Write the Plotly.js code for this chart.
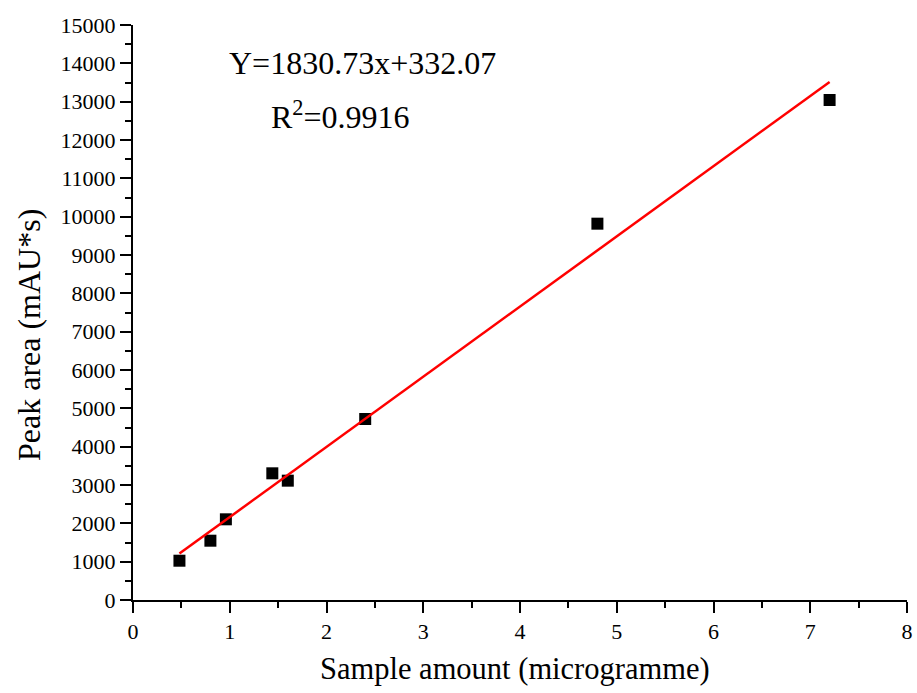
<!DOCTYPE html>
<html>
<head>
<meta charset="utf-8">
<script src="https://cdn.plot.ly/plotly-3.0.1.min.js"></script>
<style>html,body{margin:0;padding:0;background:#fff;}#chart{width:917px;height:693px;}</style>
</head>
<body>
<div id="chart"></div>
<script>
const sampleAmount = [0.48, 0.80, 0.96, 1.44, 1.60, 2.40, 4.80, 7.20];
const peakArea = [1025, 1547, 2105, 3305, 3113, 4722, 9817, 13044];
const fitSlope = 1830.73;
const fitIntercept = 332.07;
const eqText = "Y=1830.73x+332.07";
const r2Text = "R<sup>2</sup>=0.9916";
const xTitle = "Sample amount (microgramme)";
const yTitle = "Peak area (mAU*s)";

const xMin = Math.min(...sampleAmount), xMax = Math.max(...sampleAmount);
const fitX = [xMin, xMax];
const fitY = fitX.map(x => fitSlope * x + fitIntercept);

const font = "Liberation Serif, Times New Roman, serif";
const L = 133, PW = 774, B = 600, PH = 575;
const px = v => (v - L) / PW;
const py = v => (B - v) / PH;

const data = [
  {x: sampleAmount, y: peakArea, type: 'scatter', mode: 'markers',
   marker: {symbol: 'square', size: 12, color: '#000'}, showlegend: false, cliponaxis: false},
  {x: fitX, y: fitY, type: 'scatter', mode: 'lines',
   line: {color: '#ff0000', width: 2.5}, showlegend: false}
];

const axisCommon = {
  showgrid: false, zeroline: false, showline: true, linecolor: '#000', linewidth: 2,
  ticks: 'outside', ticklen: 11, tickwidth: 2, tickcolor: '#000',
  tickformat: 'd',
  tickfont: {family: font, size: 22, color: '#000'}
};

const layout = {
  width: 917, height: 693,
  margin: {l: 133, r: 10, t: 25, b: 93},
  paper_bgcolor: '#fff', plot_bgcolor: '#fff',
  xaxis: Object.assign({}, axisCommon, {
    range: [0, 8], dtick: 1, tick0: 0,
    minor: {dtick: 0.5, ticks: 'outside', ticklen: 6, tickwidth: 2, tickcolor: '#000', showgrid: false}
  }),
  yaxis: Object.assign({}, axisCommon, {
    range: [0, 15000], dtick: 1000, tick0: 0,
    minor: {dtick: 500, ticks: 'outside', ticklen: 6, tickwidth: 2, tickcolor: '#000', showgrid: false}
  }),
  annotations: [
    {text: eqText, xref: 'paper', yref: 'paper', x: px(362), y: py(63),
     xanchor: 'center', yanchor: 'middle', showarrow: false, font: {family: font, size: 32, color: '#000'}},
    {text: r2Text, xref: 'paper', yref: 'paper', x: px(340), y: py(115),
     xanchor: 'center', yanchor: 'middle', showarrow: false, font: {family: font, size: 32, color: '#000'}},
    {text: xTitle, xref: 'paper', yref: 'paper', x: px(515), y: py(669),
     xanchor: 'center', yanchor: 'middle', showarrow: false, font: {family: font, size: 30.5, color: '#000'}},
    {text: yTitle, xref: 'paper', yref: 'paper', x: px(29), y: py(335), textangle: -90,
     xanchor: 'center', yanchor: 'middle', showarrow: false, font: {family: font, size: 32, color: '#000'}}
  ]
};

Plotly.newPlot('chart', data, layout, {displayModeBar: false, staticPlot: true});
</script>
</body>
</html>
